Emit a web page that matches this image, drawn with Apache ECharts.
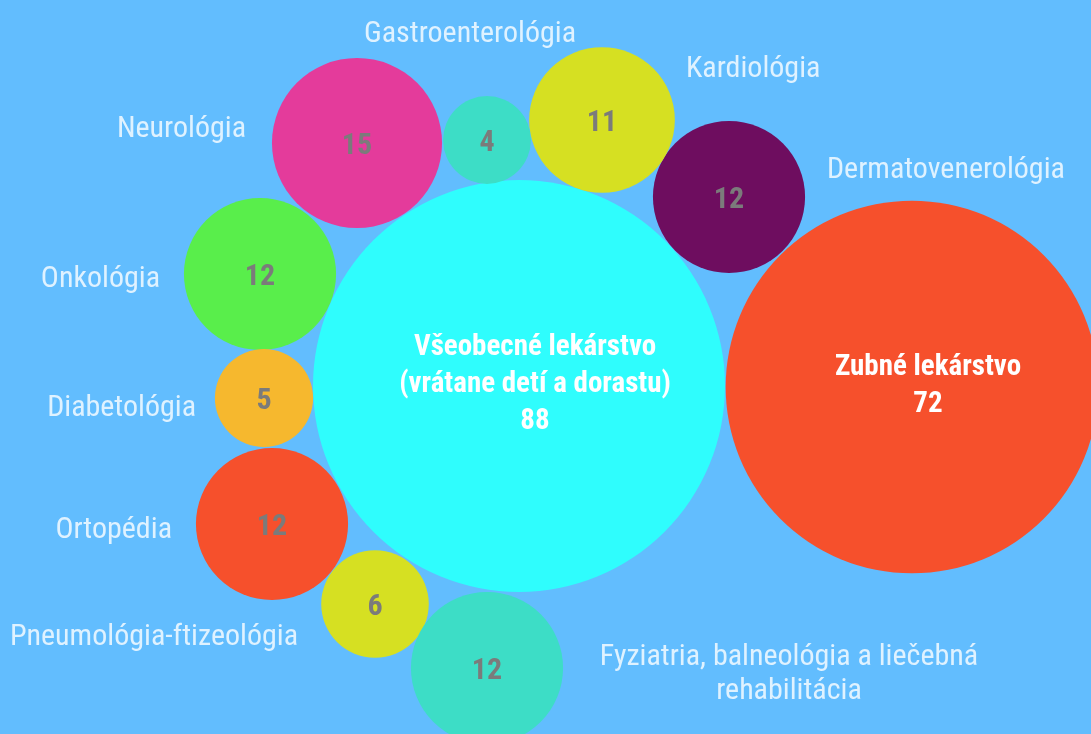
<!DOCTYPE html>
<html>
<head>
<meta charset="utf-8">
<script src="https://cdn.jsdelivr.net/npm/echarts@6/dist/echarts.min.js"></script>
<style>
  html, body { margin: 0; padding: 0; background: #62bdfe; }
  #chart { width: 1091px; height: 734px; }
</style>
</head>
<body>
<div id="chart"></div>
<script>
// počty pracovísk podľa odbornosti
const categories = [
  'Všeobecné lekárstvo\n(vrátane detí a dorastu)',
  'Zubné lekárstvo',
  'Dermatovenerológia',
  'Kardiológia',
  'Gastroenterológia',
  'Neurológia',
  'Onkológia',
  'Diabetológia',
  'Ortopédia',
  'Pneumológia-ftizeológia',
  'Fyziatria, balneológia a liečebná\nrehabilitácia',
];
const values = [88, 72, 12, 11, 4, 15, 12, 5, 12, 6, 12];
// bubble layout (packed positions)
const posX = [519, 912, 729, 602, 487, 357, 260, 264, 272, 375, 487];
const posY = [386, 387, 197, 120, 140, 143, 274, 398, 524, 604, 668];

const colors = ['#2ffdfd', '#f6502c', '#6e0d5f', '#d6e022', '#3dddc6', '#e43b9b',
  '#59ee4b', '#f6b82e', '#f6502c', '#d6e022', '#3dddc6'];

const FONT = '"Roboto Condensed", "Liberation Sans Narrow", Roboto, sans-serif';
const R_SCALE = 21.96; // px radius per sqrt(value)

// where the outside name sits relative to bubble center
const namePlace = [
  null,
  null,
  { align: 'left', offset: [98, -27] },
  { align: 'left', offset: [84, -51] },
  { align: 'center', offset: [-17, -106] },
  { align: 'right', offset: [-111, -14] },
  { align: 'right', offset: [-100, 5] },
  { align: 'right', offset: [-68, 10] },
  { align: 'right', offset: [-100, 6] },
  { align: 'right', offset: [-77, 33] },
  { align: 'center', offset: [302, 6] },
];

const bubbleData = values.map((v, i) => {
  const big = v > 50;
  return {
    name: categories[i],
    value: [posX[i], posY[i], v],
    itemStyle: { color: colors[i] },
    label: big
      ? {
          formatter: '{b}\n{@[2]}',
          color: '#fff',
          fontSize: 29,
          lineHeight: 37,
          offset: [16, -1],
        }
      : {
          formatter: '{@[2]}',
          color: '#7b7b7b',
          fontSize: 30,
          offset: [0, 3],
        },
  };
});

const nameData = values
  .map((v, i) => ({ i, v }))
  .filter((d) => namePlace[d.i])
  .map(({ i, v }) => ({
    name: categories[i],
    value: [posX[i], posY[i], v],
    label: {
      align: namePlace[i].align,
      offset: namePlace[i].offset,
    },
  }));

const chart = echarts.init(document.getElementById('chart'));
chart.setOption({
  backgroundColor: '#62bdfe',
  animation: false,
  grid: { left: 0, right: 0, top: 0, bottom: 0 },
  xAxis: { type: 'value', min: 0, max: 1091, show: false },
  yAxis: { type: 'value', min: 0, max: 734, inverse: true, show: false },
  series: [
    {
      type: 'scatter',
      data: bubbleData,
      symbolSize: (val) => 2 * R_SCALE * Math.sqrt(val[2]),
      itemStyle: { opacity: 1 },
      label: {
        show: true,
        position: 'inside',
        fontFamily: FONT,
        fontWeight: 'bold',
      },
      silent: true,
    },
    {
      type: 'scatter',
      data: nameData,
      symbolSize: (val) => 2 * R_SCALE * Math.sqrt(val[2]),
      itemStyle: { color: 'rgba(0,0,0,0)' },
      label: {
        show: true,
        position: 'inside',
        formatter: '{b}',
        color: '#ffffff',
        fontFamily: FONT,
        fontSize: 30,
        lineHeight: 34,
      },
      silent: true,
    },
  ],
});
window.addEventListener('resize', () => chart.resize());
</script>
</body>
</html>
